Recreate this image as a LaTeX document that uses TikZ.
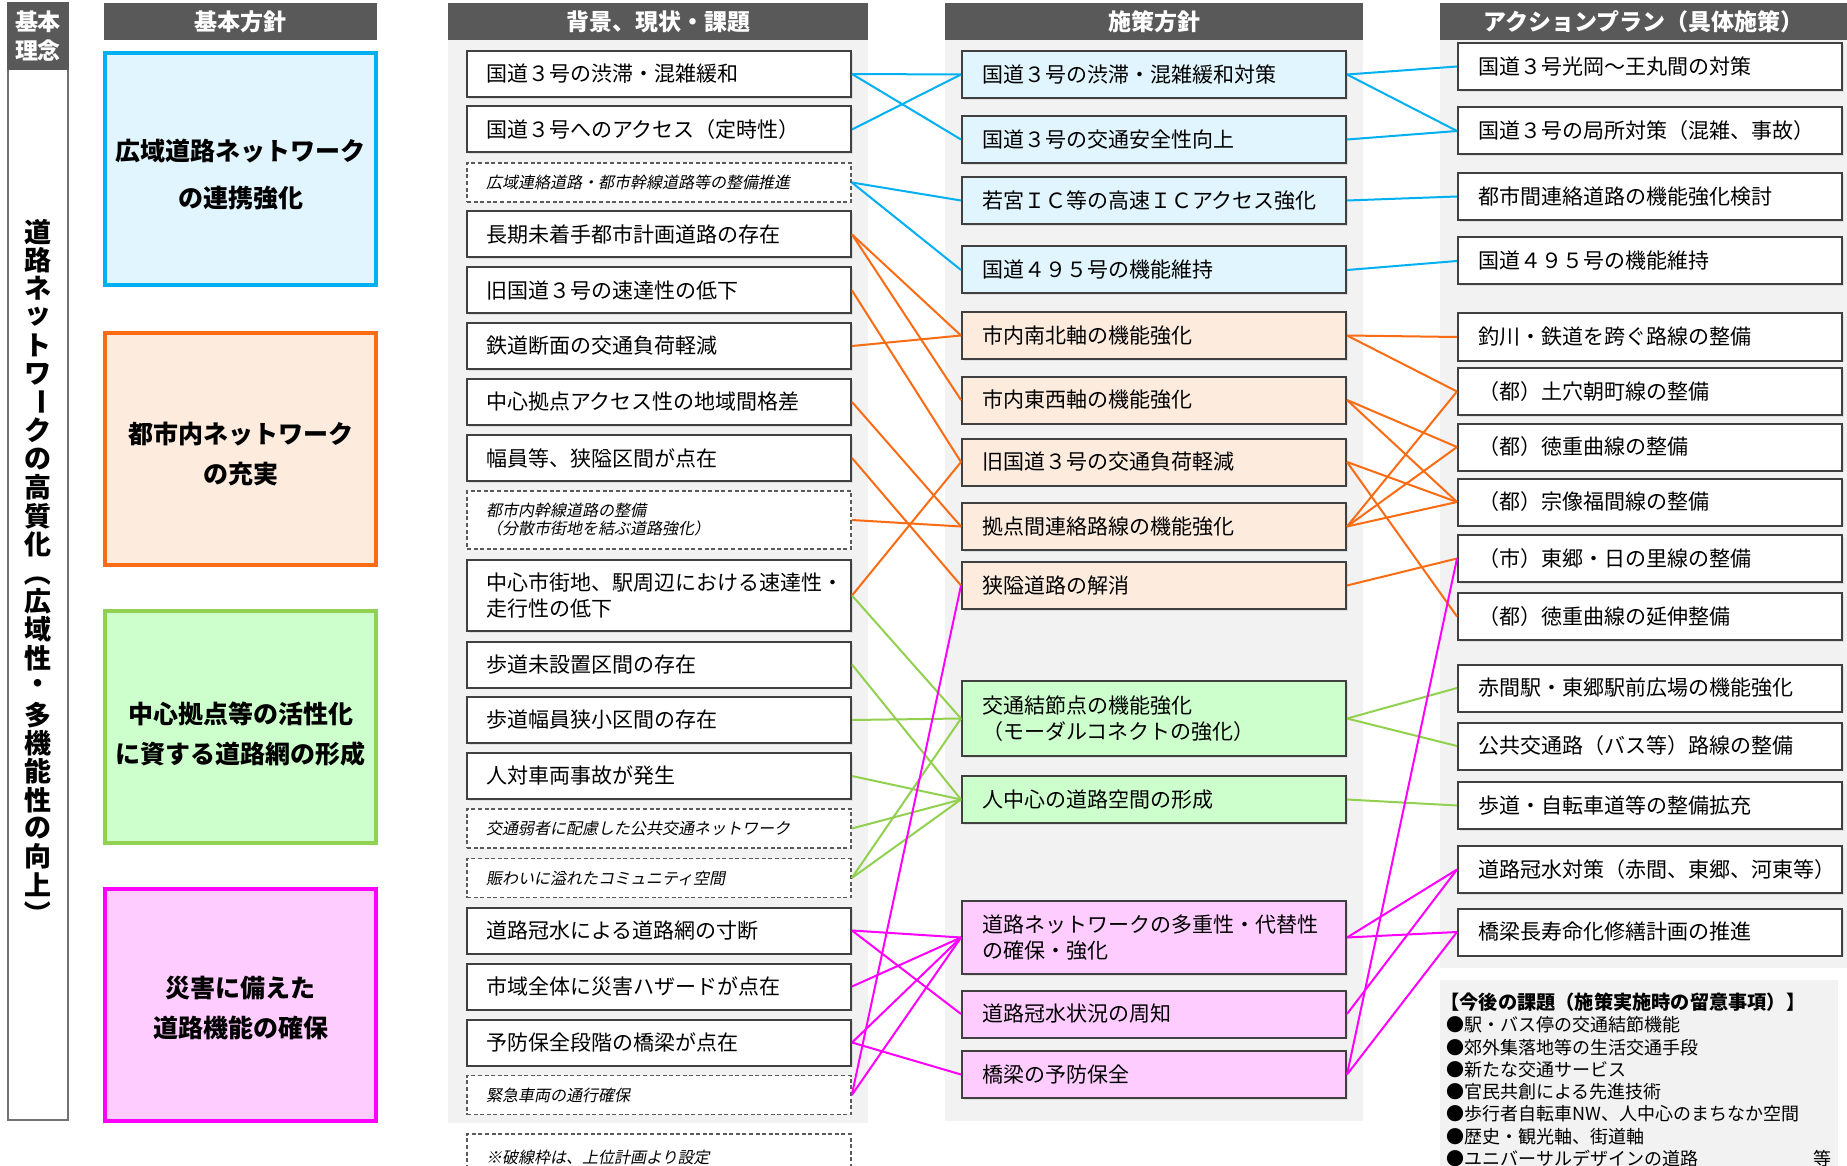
\documentclass[tikz,border=0pt]{standalone}
\usepackage{fontspec}
\usepackage{graphicx}
\newfontfamily\jp{Noto Sans CJK JP}
\newfontfamily\jpit[FakeSlant=0.2]{Noto Sans CJK JP}
\usetikzlibrary{shadows}
\definecolor{hdr}{RGB}{89,89,89}
\definecolor{panel}{RGB}{242,242,242}
\definecolor{bd}{RGB}{64,64,64}
\definecolor{dbd}{RGB}{90,90,90}
\definecolor{cyanL}{RGB}{0,176,240}
\definecolor{oranL}{RGB}{250,108,20}
\definecolor{greenL}{RGB}{146,208,80}
\definecolor{pinkL}{RGB}{255,0,255}
\definecolor{blueF}{RGB}{224,245,253}
\definecolor{oranF}{RGB}{253,236,222}
\definecolor{greenF}{RGB}{204,255,204}
\definecolor{pinkF}{RGB}{255,204,255}
\newcommand\myvbar{\rotatebox[origin=c]{-90}{ー}}
\newcommand\myvlp{\rotatebox[origin=c]{-90}{（}}
\newcommand\myvrp{\rotatebox[origin=c]{-90}{）}}
\tikzset{
  hdrbox/.style={fill=hdr, text=white, inner sep=0pt, font=\jp\bfseries\fontsize{11.5}{14}\selectfont},
  bigbox/.style={line width=2pt, minimum width=135.5pt, minimum height=116pt, inner sep=0pt},
  bigtext/.style={align=center, inner sep=0pt, font=\jp\bfseries\fontsize{12.5}{20}\selectfont},
  lbox/.style={draw=bd, line width=1pt, fill=white, minimum height=23pt, text width=173pt, inner xsep=9.5pt, inner ysep=0pt, align=left, font=\jp\fontsize{10.5}{13}\selectfont, drop shadow={shadow xshift=0.8pt, shadow yshift=-0.8pt, opacity=0.18}},
  ldash/.style={draw=dbd, line width=0.8pt, dash pattern=on 2pt off 1.3pt, fill=white, minimum height=19.5pt, text width=173pt, inner xsep=9.5pt, inner ysep=0pt, align=left, font=\jpit\fontsize{8}{9}\selectfont},
  mbox/.style={draw=bd, line width=1pt, minimum height=23.5pt, text width=172pt, inner xsep=10pt, inner ysep=0pt, align=left, font=\jp\fontsize{10.5}{13}\selectfont, drop shadow={shadow xshift=0.8pt, shadow yshift=-0.8pt, opacity=0.18}},
  conn/.style={line width=1pt},
  vchar/.style={inner sep=0pt, font=\jp\bfseries\fontsize{13.5}{14}\selectfont},
  note/.style={anchor=west, inner sep=0pt, font=\jp\fontsize{9}{11}\selectfont}
}
\begin{document}
\begin{tikzpicture}[x=0.5pt,y=-0.5pt]
\useasboundingbox (0,0) rectangle (1847,1166);
\clip (0,0) rectangle (1847,1166);
\fill[white] (0,0) rectangle (1847,1166);

% panels
\fill[panel] (448,40) rectangle (868,1123);
\fill[panel] (945,40) rectangle (1363,1121);
\fill[panel] (1440,40) rectangle (1847,968);
\fill[panel] (1440,980) rectangle (1838,1175);

% left column
\draw[draw=hdr!85, line width=1pt] (8,3) rectangle (68,1120);
\node[hdrbox, minimum width=31pt, minimum height=34pt, align=center, font=\jp\bfseries\fontsize{11.5}{14.5}\selectfont] (hk) at (38,36) {基本\\理念};
\foreach \ch [count=\i from 0] in {道,路,ネ,ッ,ト,ワ,\myvbar,ク,の,高,質,化,\myvlp,広,域,性,・,多,機,能,性,の,向,上,\myvrp}
  \node[vchar] (v\i) at (38,{231.9+28.4*\i}) {\ch};

% headers
\node[hdrbox, minimum width=136.5pt, minimum height=18.5pt] (h1) at (240.5,21.5) {基本方針};
\node[hdrbox, minimum width=210pt, minimum height=18.5pt] (h2) at (658,21.5) {背景、現状・課題};
\node[hdrbox, minimum width=209pt, minimum height=18.5pt] (h3) at (1154,21.5) {施策方針};
\node[hdrbox, minimum width=203.5pt, minimum height=18.5pt] (h4) at (1643.5,21.5) {アクションプラン（具体施策）};

% basic policy boxes
\node[bigbox, draw=cyanL, fill=blueF] (k1) at (240.5,169) {};
\node[bigbox, draw=oranL, fill=oranF] (k2) at (240.5,449) {};
\node[bigbox, draw=greenL, fill=greenF] (k3) at (240.5,727) {};
\node[bigbox, draw=pinkL, fill=pinkF] (k4) at (240.5,1005) {};
\node[bigtext, font=\jp\bfseries\fontsize{12.5}{23.5}\selectfont] (k1t) at (240.5,175) {広域道路ネットワーク\\の連携強化};
\node[bigtext] (k2t) at (240.5,453.5) {都市内ネットワーク\\の充実};
\node[bigtext] (k3t) at (240.5,734) {中心拠点等の活性化\\に資する道路網の形成};
\node[bigtext] (k4t) at (240.5,1008) {災害に備えた\\道路機能の確保};

% column 2
\node[lbox] (L1) at (659,74) {国道３号の渋滞・混雑緩和};
\node[lbox] (L2) at (659,129.5) {国道３号へのアクセス（定時性）};
\node[ldash] (L3) at (659,182.5) {広域連絡道路・都市幹線道路等の整備推進};
\node[lbox] (L4) at (659,234.5) {長期未着手都市計画道路の存在};
\node[lbox] (L5) at (659,290.5) {旧国道３号の速達性の低下};
\node[lbox] (L6) at (659,346) {鉄道断面の交通負荷軽減};
\node[lbox] (L7) at (659,402) {中心拠点アクセス性の地域間格差};
\node[lbox] (L8) at (659,458) {幅員等、狭隘区間が点在};
\node[ldash, minimum height=29pt] (L9) at (659,520) {都市内幹線道路の整備\\（分散市街地を結ぶ道路強化）};
\node[lbox, minimum height=35.5pt] (L10) at (659,595.5) {中心市街地、駅周辺における速達性・\\走行性の低下};
\node[lbox] (L11) at (659,664.5) {歩道未設置区間の存在};
\node[lbox] (L12) at (659,720) {歩道幅員狭小区間の存在};
\node[lbox] (L13) at (659,776) {人対車両事故が発生};
\node[ldash] (L14) at (659,828.5) {交通弱者に配慮した公共交通ネットワーク};
\node[ldash] (L15) at (659,878) {賑わいに溢れたコミュニティ空間};
\node[lbox] (L16) at (659,930.5) {道路冠水による道路網の寸断};
\node[lbox] (L17) at (659,986.5) {市域全体に災害ハザードが点在};
\node[lbox] (L18) at (659,1042.5) {予防保全段階の橋梁が点在};
\node[ldash] (L19) at (659,1095) {緊急車両の通行確保};
\node[ldash, minimum height=23pt] (L20) at (659,1157) {※破線枠は、上位計画より設定};

% column 3
\node[mbox, fill=blueF] (MA) at (1154,74.5) {国道３号の渋滞・混雑緩和対策};
\node[mbox, fill=blueF] (MB) at (1154,139.5) {国道３号の交通安全性向上};
\node[mbox, fill=blueF] (MC) at (1154,200.5) {若宮ＩＣ等の高速ＩＣアクセス強化};
\node[mbox, fill=blueF] (MD) at (1154,270) {国道４９５号の機能維持};
\node[mbox, fill=oranF] (O1) at (1154,335.5) {市内南北軸の機能強化};
\node[mbox, fill=oranF] (O2) at (1154,400) {市内東西軸の機能強化};
\node[mbox, fill=oranF] (O3) at (1154,462) {旧国道３号の交通負荷軽減};
\node[mbox, fill=oranF] (O4) at (1154,526.5) {拠点間連絡路線の機能強化};
\node[mbox, fill=oranF] (O5) at (1154,585.5) {狭隘道路の解消};
\node[mbox, fill=greenF, minimum height=37.5pt] (G1) at (1154,718.5) {交通結節点の機能強化\\（モーダルコネクトの強化）};
\node[mbox, fill=greenF] (G2) at (1154,799.5) {人中心の道路空間の形成};
\node[mbox, fill=pinkF, minimum height=36.5pt] (P1) at (1154,937.5) {道路ネットワークの多重性・代替性\\の確保・強化};
\node[mbox, fill=pinkF] (P2) at (1154,1014) {道路冠水状況の周知};
\node[mbox, fill=pinkF] (P3) at (1154,1074.5) {橋梁の予防保全};

% column 4
\node[mbox, fill=white] (R1) at (1650,66.5) {国道３号光岡～王丸間の対策};
\node[mbox, fill=white] (R2) at (1650,131) {国道３号の局所対策（混雑、事故）};
\node[mbox, fill=white] (R3) at (1650,196.5) {都市間連絡道路の機能強化検討};
\node[mbox, fill=white] (R4) at (1650,261) {国道４９５号の機能維持};
\node[mbox, fill=white] (R5) at (1650,337) {釣川・鉄道を跨ぐ路線の整備};
\node[mbox, fill=white] (R6) at (1650,391.5) {（都）土穴朝町線の整備};
\node[mbox, fill=white] (R7) at (1650,447) {（都）徳重曲線の整備};
\node[mbox, fill=white] (R8) at (1650,502) {（都）宗像福間線の整備};
\node[mbox, fill=white] (R9) at (1650,558.5) {（市）東郷・日の里線の整備};
\node[mbox, fill=white] (R10) at (1650,616.5) {（都）徳重曲線の延伸整備};
\node[mbox, fill=white] (R11) at (1650,688) {赤間駅・東郷駅前広場の機能強化};
\node[mbox, fill=white] (R12) at (1650,746) {公共交通路（バス等）路線の整備};
\node[mbox, fill=white] (R13) at (1650,805.5) {歩道・自転車道等の整備拡充};
\node[mbox, fill=white] (R14) at (1650,869.5) {道路冠水対策（赤間、東郷、河東等）};
\node[mbox, fill=white] (R15) at (1650,932) {橋梁長寿命化修繕計画の推進};

% notes
\node[note, font=\jp\bfseries\fontsize{9.6}{11}\selectfont] (n0) at (1440,1002) {【今後の課題（施策実施時の留意事項）】};
\node[note] (n1) at (1446,1025) {●駅・バス停の交通結節機能};
\node[note] (n2) at (1446,1047.3) {●郊外集落地等の生活交通手段};
\node[note] (n3) at (1446,1069.5) {●新たな交通サービス};
\node[note] (n4) at (1446,1091.7) {●官民共創による先進技術};
\node[note] (n5) at (1446,1114) {●歩行者自転車NW、人中心のまちなか空間};
\node[note] (n6) at (1446,1136.3) {●歴史・観光軸、街道軸};
\node[note] (n7) at (1446,1158.5) {\makebox[192.5pt][l]{●ユニバーサルデザインの道路\hfill 等}};

% connectors: blue
\begin{scope}[conn, draw=cyanL]
\draw (L1.east) -- (MA.west);
\draw (L1.east) -- (MB.west);
\draw (L2.east) -- (MA.west);
\draw (L3.east) -- (MC.west);
\draw (L3.east) -- (MD.west);
\draw (MA.east) -- (R1.west);
\draw (MA.east) -- (R2.west);
\draw (MB.east) -- (R2.west);
\draw (MC.east) -- (R3.west);
\draw (MD.east) -- (R4.west);
\end{scope}
% orange
\begin{scope}[conn, draw=oranL]
\draw (L4.east) -- (O1.west);
\draw (L4.east) -- (O2.west);
\draw (L5.east) -- (O3.west);
\draw (L6.east) -- (O1.west);
\draw (L7.east) -- (O4.west);
\draw (L8.east) -- (O5.west);
\draw (L9.east) -- (O4.west);
\draw (L10.east) -- (O3.west);
\draw (O1.east) -- (R5.west);
\draw (O1.east) -- (R6.west);
\draw (O2.east) -- (R7.west);
\draw (O2.east) -- (R8.west);
\draw (O3.east) -- (R8.west);
\draw (O3.east) -- (R10.west);
\draw (O4.east) -- (R6.west);
\draw (O4.east) -- (R7.west);
\draw (O4.east) -- (R8.west);
\draw (O5.east) -- (R9.west);
\end{scope}
% green
\begin{scope}[conn, draw=greenL]
\draw (L10.east) -- (G1.west);
\draw (L11.east) -- (G2.west);
\draw (L12.east) -- (G1.west);
\draw (L13.east) -- (G2.west);
\draw (L14.east) -- (G2.west);
\draw (L15.east) -- (G2.west);
\draw (L15.east) -- (G1.west);
\draw (G1.east) -- (R11.west);
\draw (G1.east) -- (R12.west);
\draw (G2.east) -- (R13.west);
\end{scope}
% pink
\begin{scope}[conn, draw=pinkL]
\draw (L16.east) -- (P1.west);
\draw (L16.east) -- (P2.west);
\draw (L17.east) -- (P1.west);
\draw (L18.east) -- (P1.west);
\draw (L18.east) -- (P3.west);
\draw (L19.east) -- (P1.west);
\draw (L19.east) -- (O5.west);
\draw (P1.east) -- (R14.west);
\draw (P1.east) -- (R15.west);
\draw (P2.east) -- (R14.west);
\draw (P3.east) -- (R15.west);
\draw (P3.east) -- (R9.west);
\end{scope}
\end{tikzpicture}
\end{document}
